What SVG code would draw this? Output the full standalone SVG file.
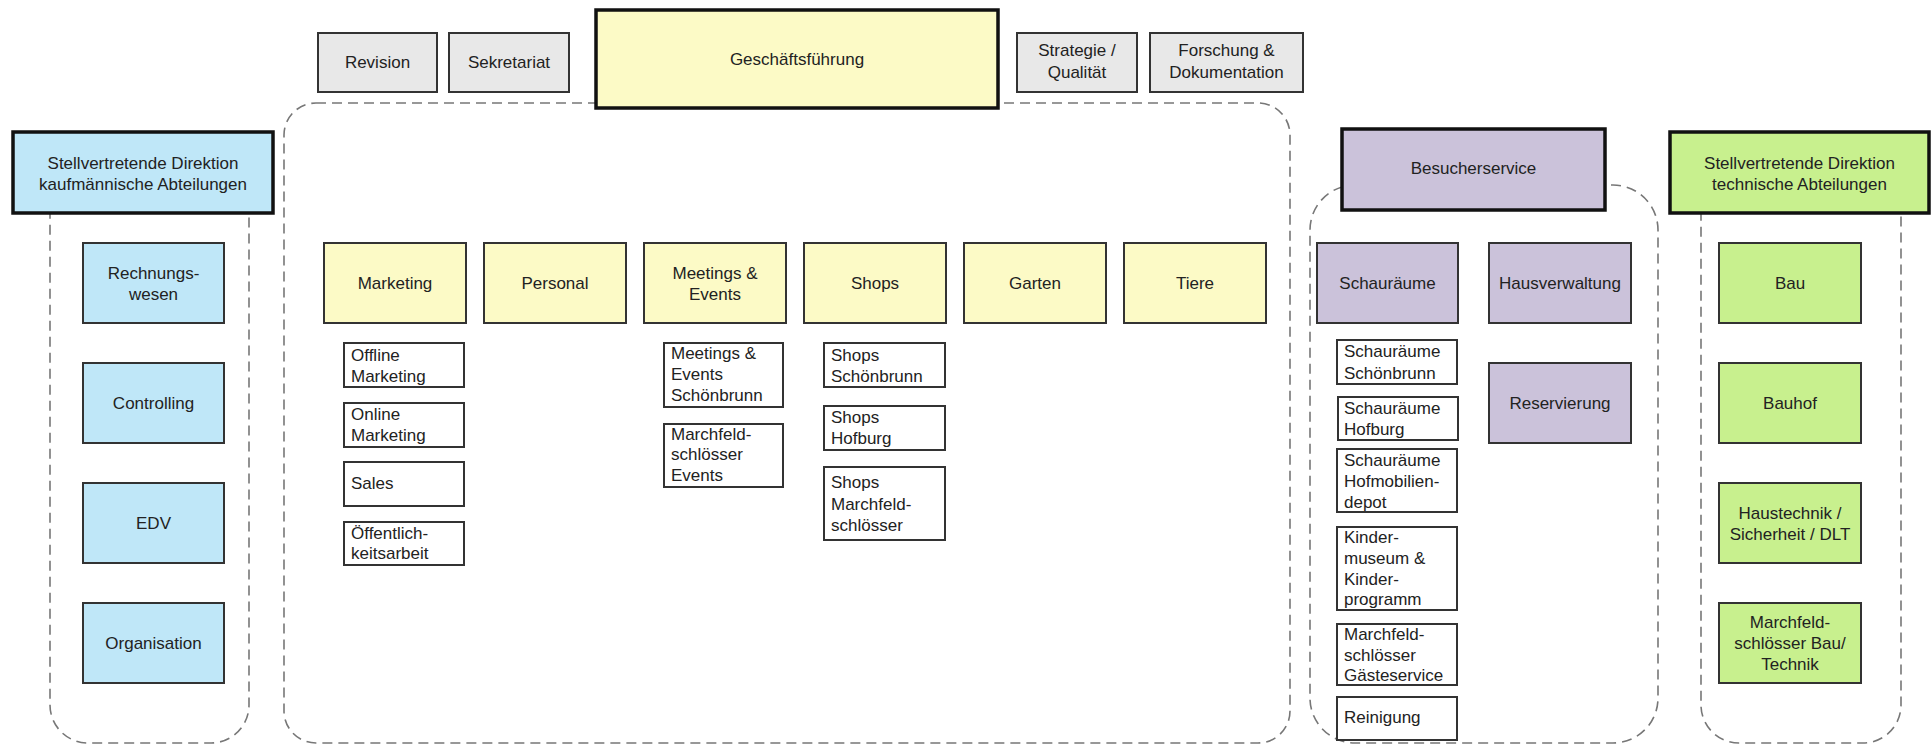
<svg xmlns="http://www.w3.org/2000/svg" width="1931" height="745" viewBox="0 0 1931 745">
<style>
text{font-family:"Liberation Sans",Arial,sans-serif;font-size:17px;fill:#222}
.m{text-anchor:middle}
.n{stroke:#333;stroke-width:2}
.h{stroke:#111;stroke-width:3.5}
.y{fill:#FCFAC6}.b{fill:#BFE7F8}.p{fill:#CBC2DA}.g{fill:#C8F08E}.gr{fill:#E8E8E8}.w{fill:#fff}
.c{fill:none;stroke:#777;stroke-width:1.6;stroke-dasharray:10 6}
</style>
<rect width="1931" height="745" fill="#fff"/>
<g id="containers">
<rect class="c" x="50" y="170" width="199" height="573" rx="38"/>
<rect class="c" x="284" y="103" width="1006" height="640" rx="32"/>
<rect class="c" x="1310" y="185" width="348" height="558" rx="45"/>
<rect class="c" x="1701" y="170" width="200" height="573" rx="38"/>
</g>
<g id="revision"><rect class="n gr" x="318" y="33" width="119" height="59"/><text class="m" x="377.5" y="68">Revision</text></g>
<g id="sekretariat"><rect class="n gr" x="449" y="33" width="120" height="59"/><text class="m" x="509" y="68">Sekretariat</text></g>
<g id="geschaeftsfuehrung"><rect class="h y" x="596" y="10" width="402" height="98"/><text class="m" x="797" y="65">Geschäftsführung</text></g>
<g id="strategie"><rect class="n gr" x="1017" y="33" width="120" height="59"/><text class="m" x="1077" y="56">Strategie /</text><text class="m" x="1077" y="78">Qualität</text></g>
<g id="forschung"><rect class="n gr" x="1150" y="33" width="153" height="59"/><text class="m" x="1226.5" y="56">Forschung &amp;</text><text class="m" x="1226.5" y="78">Dokumentation</text></g>

<g id="stv-kaufm"><rect class="h b" x="13" y="132" width="260" height="81"/><text class="m" x="143" y="169">Stellvertretende Direktion</text><text class="m" x="143" y="190">kaufmännische Abteilungen</text></g>
<g id="rechnungswesen"><rect class="n b" x="83" y="243" width="141" height="80"/><text class="m" x="153.5" y="279">Rechnungs-</text><text class="m" x="153.5" y="300">wesen</text></g>
<g id="controlling"><rect class="n b" x="83" y="363" width="141" height="80"/><text class="m" x="153.5" y="409">Controlling</text></g>
<g id="edv"><rect class="n b" x="83" y="483" width="141" height="80"/><text class="m" x="153.5" y="529">EDV</text></g>
<g id="organisation"><rect class="n b" x="83" y="603" width="141" height="80"/><text class="m" x="153.5" y="649">Organisation</text></g>

<g id="marketing"><rect class="n y" x="324" y="243" width="142" height="80"/><text class="m" x="395" y="289">Marketing</text></g>
<g id="personal"><rect class="n y" x="484" y="243" width="142" height="80"/><text class="m" x="555" y="289">Personal</text></g>
<g id="meetings"><rect class="n y" x="644" y="243" width="142" height="80"/><text class="m" x="715" y="279">Meetings &amp;</text><text class="m" x="715" y="300">Events</text></g>
<g id="shops"><rect class="n y" x="804" y="243" width="142" height="80"/><text class="m" x="875" y="289">Shops</text></g>
<g id="garten"><rect class="n y" x="964" y="243" width="142" height="80"/><text class="m" x="1035" y="289">Garten</text></g>
<g id="tiere"><rect class="n y" x="1124" y="243" width="142" height="80"/><text class="m" x="1195" y="289">Tiere</text></g>

<g id="offline"><rect class="n w" x="344" y="343" width="120" height="44"/><text x="351" y="361">Offline</text><text x="351" y="382">Marketing</text></g>
<g id="online"><rect class="n w" x="344" y="403" width="120" height="44"/><text x="351" y="420">Online</text><text x="351" y="441">Marketing</text></g>
<g id="sales"><rect class="n w" x="344" y="462" width="120" height="44"/><text x="351" y="489">Sales</text></g>
<g id="oeffentlich"><rect class="n w" x="344" y="522" width="120" height="43"/><text x="351" y="539">Öffentlich-</text><text x="351" y="559">keitsarbeit</text></g>

<g id="me-schoenbrunn"><rect class="n w" x="664" y="343" width="119" height="64"/><text x="671" y="359">Meetings &amp;</text><text x="671" y="380">Events</text><text x="671" y="401">Schönbrunn</text></g>
<g id="me-marchfeld"><rect class="n w" x="664" y="424" width="119" height="63"/><text x="671" y="440">Marchfeld-</text><text x="671" y="460">schlösser</text><text x="671" y="481">Events</text></g>

<g id="shops-schoenbrunn"><rect class="n w" x="824" y="343" width="121" height="44"/><text x="831" y="361">Shops</text><text x="831" y="382">Schönbrunn</text></g>
<g id="shops-hofburg"><rect class="n w" x="824" y="406" width="121" height="44"/><text x="831" y="423">Shops</text><text x="831" y="444">Hofburg</text></g>
<g id="shops-marchfeld"><rect class="n w" x="824" y="467" width="121" height="73"/><text x="831" y="488">Shops</text><text x="831" y="510">Marchfeld-</text><text x="831" y="531">schlösser</text></g>

<g id="besucherservice"><rect class="h p" x="1342" y="129" width="263" height="81"/><text class="m" x="1473.5" y="174">Besucherservice</text></g>
<g id="schauraeume"><rect class="n p" x="1317" y="243" width="141" height="80"/><text class="m" x="1387.5" y="289">Schauräume</text></g>
<g id="hausverwaltung"><rect class="n p" x="1489" y="243" width="142" height="80"/><text class="m" x="1560" y="289">Hausverwaltung</text></g>
<g id="reservierung"><rect class="n p" x="1489" y="363" width="142" height="80"/><text class="m" x="1560" y="409">Reservierung</text></g>

<g id="sr-schoenbrunn"><rect class="n w" x="1337" y="340" width="120" height="44"/><text x="1344" y="357">Schauräume</text><text x="1344" y="379">Schönbrunn</text></g>
<g id="sr-hofburg"><rect class="n w" x="1338" y="397" width="120" height="43"/><text x="1344" y="414">Schauräume</text><text x="1344" y="435">Hofburg</text></g>
<g id="sr-hofmobilien"><rect class="n w" x="1337" y="449" width="120" height="63"/><text x="1344" y="466">Schauräume</text><text x="1344" y="487">Hofmobilien-</text><text x="1344" y="508">depot</text></g>
<g id="kindermuseum"><rect class="n w" x="1337" y="527" width="120" height="83"/><text x="1344" y="543">Kinder-</text><text x="1344" y="564">museum &amp;</text><text x="1344" y="585">Kinder-</text><text x="1344" y="605">programm</text></g>
<g id="gaesteservice"><rect class="n w" x="1337" y="624" width="120" height="61"/><text x="1344" y="640">Marchfeld-</text><text x="1344" y="661">schlösser</text><text x="1344" y="681">Gästeservice</text></g>
<g id="reinigung"><rect class="n w" x="1337" y="697" width="120" height="43"/><text x="1344" y="723">Reinigung</text></g>

<g id="stv-tech"><rect class="h g" x="1670" y="132" width="259" height="81"/><text class="m" x="1799.5" y="169">Stellvertretende Direktion</text><text class="m" x="1799.5" y="190">technische Abteilungen</text></g>
<g id="bau"><rect class="n g" x="1719" y="243" width="142" height="80"/><text class="m" x="1790" y="289">Bau</text></g>
<g id="bauhof"><rect class="n g" x="1719" y="363" width="142" height="80"/><text class="m" x="1790" y="409">Bauhof</text></g>
<g id="haustechnik"><rect class="n g" x="1719" y="483" width="142" height="80"/><text class="m" x="1790" y="519">Haustechnik /</text><text class="m" x="1790" y="540">Sicherheit / DLT</text></g>
<g id="marchfeld-bau"><rect class="n g" x="1719" y="603" width="142" height="80"/><text class="m" x="1790" y="628">Marchfeld-</text><text class="m" x="1790" y="649">schlösser Bau/</text><text class="m" x="1790" y="670">Technik</text></g>
</svg>
